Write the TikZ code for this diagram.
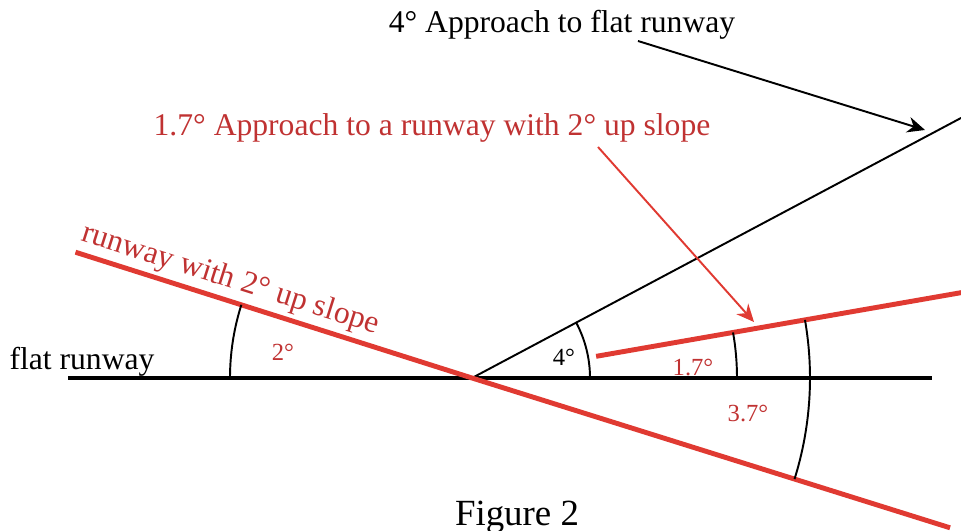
\documentclass[tikz,border=0pt]{standalone}
\usepackage{fontspec}
\setmainfont{Liberation Serif}
\usetikzlibrary{arrows.meta,positioning}
\definecolor{slopered}{RGB}{224,58,50}
\definecolor{labelred}{RGB}{192,50,50}
\tikzset{
  runway/.style={line width=2.6pt},
  slopeline/.style={slopered,line width=2.8pt},
  thinline/.style={line width=1.1pt},
  anglearc/.style={line width=1.1pt},
  pointer/.style={line width=1.1pt,-{Stealth[length=10pt,width=9pt]}},
  bigtext/.style={font=\fontsize{18}{20}\selectfont,inner sep=1pt},
  angtext/.style={font=\fontsize{14}{16}\selectfont,inner sep=1pt}
}
\begin{document}
\begin{tikzpicture}[x=0.02cm,y=0.02cm]
  \useasboundingbox (0,0) rectangle (961,531);
  % where the two runways cross
  \coordinate (O) at (472,153);
  \coordinate (flatL) at (68,153);
  \coordinate (flatR) at (932,153);
  \coordinate (slopeL) at ([shift={(162.4:416)}]O);
  \coordinate (slopeR) at ([shift={(-17.4:501)}]O);
  \coordinate (flatApp) at ([shift={(28:554)}]O);
  \coordinate (slopeAppA) at ([shift={(9.9:126)}]O);
  \coordinate (slopeAppB) at ([shift={(9.9:497)}]O);

  \draw[runway] (flatL) -- (flatR);
  \draw[thinline] (O) -- (flatApp);
  \draw[slopeline] (slopeAppA) -- (slopeAppB);
  \draw[slopeline] (slopeL) -- (O) node[pos=0.375,sloped,above=1pt,bigtext,labelred] (slopelbl) {runway with 2° up slope}
    -- (slopeR);

  % angle arcs
  \draw[anglearc] ([shift={(180:242)}]O) arc[start angle=180,end angle=162.4,radius=242];
  \draw[anglearc] ([shift={(0:118)}]O) arc[start angle=0,end angle=28,radius=118];
  \draw[anglearc] ([shift={(0:265)}]O) arc[start angle=0,end angle=9.9,radius=265];
  \draw[anglearc] ([shift={(-17.4:338)}]O) arc[start angle=-17.4,end angle=9.9,radius=338];

  \node[angtext,labelred] (ang2) at (283,179) {2°};
  \node[angtext] (ang4) at (564,174) {4°};
  \node[angtext,labelred] (ang17) at (693,164) {1.7°};
  \node[angtext,labelred] (ang37) at (748,118) {3.7°};

  \node[bigtext] (flatlbl) at (82,169) {flat runway};
  \node[bigtext] (flattitle) at (562,506) {4° Approach to flat runway};
  \node[bigtext,labelred] (slopetitle) at (432,403) {1.7° Approach to a runway with 2° up slope};
  \node[font=\fontsize{21}{24}\selectfont,inner sep=1pt] (figlbl) at (517,14) {Figure 2};

  % pointers
  \coordinate (flatTail) at (638,490);
  \coordinate (flatTip) at (925,401);
  \coordinate (slopeTail) at (598,384);
  \coordinate (slopeTip) at (754,209);
  \draw[pointer] (flatTail) -- (flatTip);
  \draw[pointer,slopered] (slopeTail) -- (slopeTip);
\end{tikzpicture}
\end{document}
